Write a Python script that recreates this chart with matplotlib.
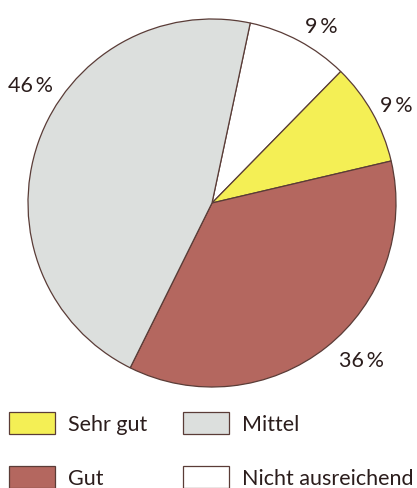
import numpy as np
import matplotlib.pyplot as plt
from matplotlib.patches import Patch

plt.rcParams['font.family'] = ['Lato', 'DejaVu Sans']

# data (clockwise from the top)
labels = ["Nicht ausreichend", "Sehr gut", "Gut", "Mittel"]
values = [9, 9, 36, 46]
colors = ["#ffffff", "#f4ef55", "#b4675f", "#dcdfdd"]
# where the percent labels sit (angle in degrees, radius in pie radii)
label_angles = [58.5, 28.5, -46, 146.5]
label_radii = [1.14, 1.14, 1.17, 1.18]
# legend is filled column by column
legend_order = ["Sehr gut", "Gut", "Mittel", "Nicht ausreichend"]

edge = "#5a3c37"
txt = "#2b1d1c"

W, H = 417, 489
fig = plt.figure(figsize=(W / 100, H / 100), dpi=100)
cx, cy, r = 212, 204, 184
ax = fig.add_axes([(cx - r) / W, 1 - (cy + r) / H, 2 * r / W, 2 * r / H])

wedges, _ = ax.pie(values, colors=colors, startangle=78, counterclock=False,
                   radius=1, wedgeprops=dict(edgecolor=edge, linewidth=0.9))
ax.set_xlim(-1, 1)
ax.set_ylim(-1, 1)
ax.set_aspect("equal")
ax.axis("off")

for v, a, rr in zip(values, label_angles, label_radii):
    t = np.deg2rad(a)
    ax.text(rr * np.cos(t), rr * np.sin(t), f"{v}\u2009%", ha="center",
            va="center_baseline", fontsize=15.5, color=txt, clip_on=False)

handles = [Patch(facecolor=colors[labels.index(l)], edgecolor=edge, linewidth=0.9)
           for l in legend_order]
fs = 15.5
fspx = fs * 100 / 72
fig.legend(handles, legend_order, ncol=2, loc="upper left",
           bbox_to_anchor=(9 / W, 1 - 413 / H), frameon=False, fontsize=fs,
           labelcolor=txt, handlelength=46 / fspx, handleheight=25 / fspx,
           handletextpad=13 / fspx, labelspacing=32 / fspx,
           columnspacing=36 / fspx, borderpad=0, borderaxespad=0)

fig.savefig("out.png", dpi=100)
